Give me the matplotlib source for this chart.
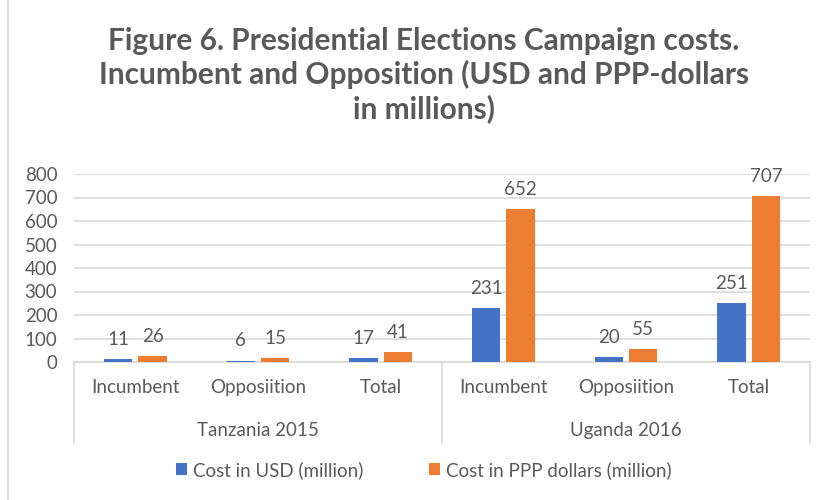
import matplotlib

matplotlib.use("Agg")
import matplotlib.pyplot as plt
import matplotlib.transforms as mtransforms
import numpy as np
from matplotlib.patches import Patch, Rectangle

# datos
groups = ["Tanzania 2015", "Uganda 2016"]
categories = ["Incumbent", "Opposiition", "Total"]
usd = [11, 6, 17, 231, 20, 251]
ppp = [26, 15, 41, 652, 55, 707]
series_names = ["Cost in USD (million)", "Cost in PPP dollars (million)"]
yticks = [0, 100, 200, 300, 400, 500, 600, 700, 800]

BLUE = "#4472C4"
ORANGE = "#ED7D31"
TEXT = "#595959"
GRID = "#D9D9D9"
FS = 13.5

plt.rcParams["font.family"] = ["Lato", "DejaVu Sans"]

fig = plt.figure(figsize=(8.23, 5.0), dpi=100)
ax = fig.add_axes([74 / 823, 138 / 500, 736 / 823, 188 / 500])

n = len(usd)
x = np.arange(n)
width = 0.23
gap = 0.025
b1 = ax.bar(x - width / 2 - gap, usd, width, color=BLUE, zorder=3)
b2 = ax.bar(x + width / 2 + gap, ppp, width, color=ORANGE, zorder=3)

for bars in (b1, b2):
    for rect in bars:
        h = rect.get_height()
        ax.annotate(str(int(h)), (rect.get_x() + rect.get_width() / 2, h),
                    xytext=(0, 8), textcoords="offset points",
                    ha="center", va="bottom", fontsize=FS, color=TEXT)

ax.set_xlim(-0.5, n - 0.5)
ax.set_ylim(0, 800)
ax.set_yticks(yticks)
ax.set_yticklabels([str(v) for v in yticks], fontsize=FS, color=TEXT)
ax.tick_params(axis="y", length=0, pad=12)
ax.set_xticks([])
ax.yaxis.grid(True, color=GRID, linewidth=1.2, zorder=0)
for side in ("top", "right", "left"):
    ax.spines[side].set_visible(False)
ax.spines["bottom"].set_color(GRID)
ax.spines["bottom"].set_linewidth(1.2)

# eje de categorias de dos niveles
trans = mtransforms.blended_transform_factory(ax.transData, ax.transAxes)
labels = categories * len(groups)
for i, lab in enumerate(labels):
    ax.text(i, -0.138, lab, transform=trans, ha="center", va="center",
            fontsize=FS, color=TEXT)
per = len(categories)
for g, name in enumerate(groups):
    ax.text(g * per + (per - 1) / 2, -0.367, name, transform=trans,
            ha="center", va="center", fontsize=FS, color=TEXT)
for xd in [-0.5 + g * per for g in range(len(groups) + 1)]:
    ax.plot([xd, xd], [0, -0.431], transform=trans, color=GRID,
            linewidth=1.2, clip_on=False)

fig.text(0.515, 0.85, "Figure 6. Presidential Elections Campaign costs.\n"
         "Incumbent and Opposition (USD and PPP-dollars\nin millions)",
         ha="center", va="center", fontsize=21.5, fontweight="bold",
         color=TEXT, linespacing=1.22)

handles = [Patch(facecolor=BLUE), Patch(facecolor=ORANGE)]
fig.legend(handles, series_names, loc="center", bbox_to_anchor=(0.515, 0.06),
           ncol=2, frameon=False, fontsize=FS, labelcolor=TEXT,
           handlelength=0.6, handleheight=0.6, handletextpad=0.3,
           columnspacing=3.5)

# marco del grafico
fig.patches.append(Rectangle((8 / 823, -0.01), 1.0, 1.02, transform=fig.transFigure,
                             fill=False, edgecolor=GRID, linewidth=1.2))

fig.savefig("out.png", dpi=100)
